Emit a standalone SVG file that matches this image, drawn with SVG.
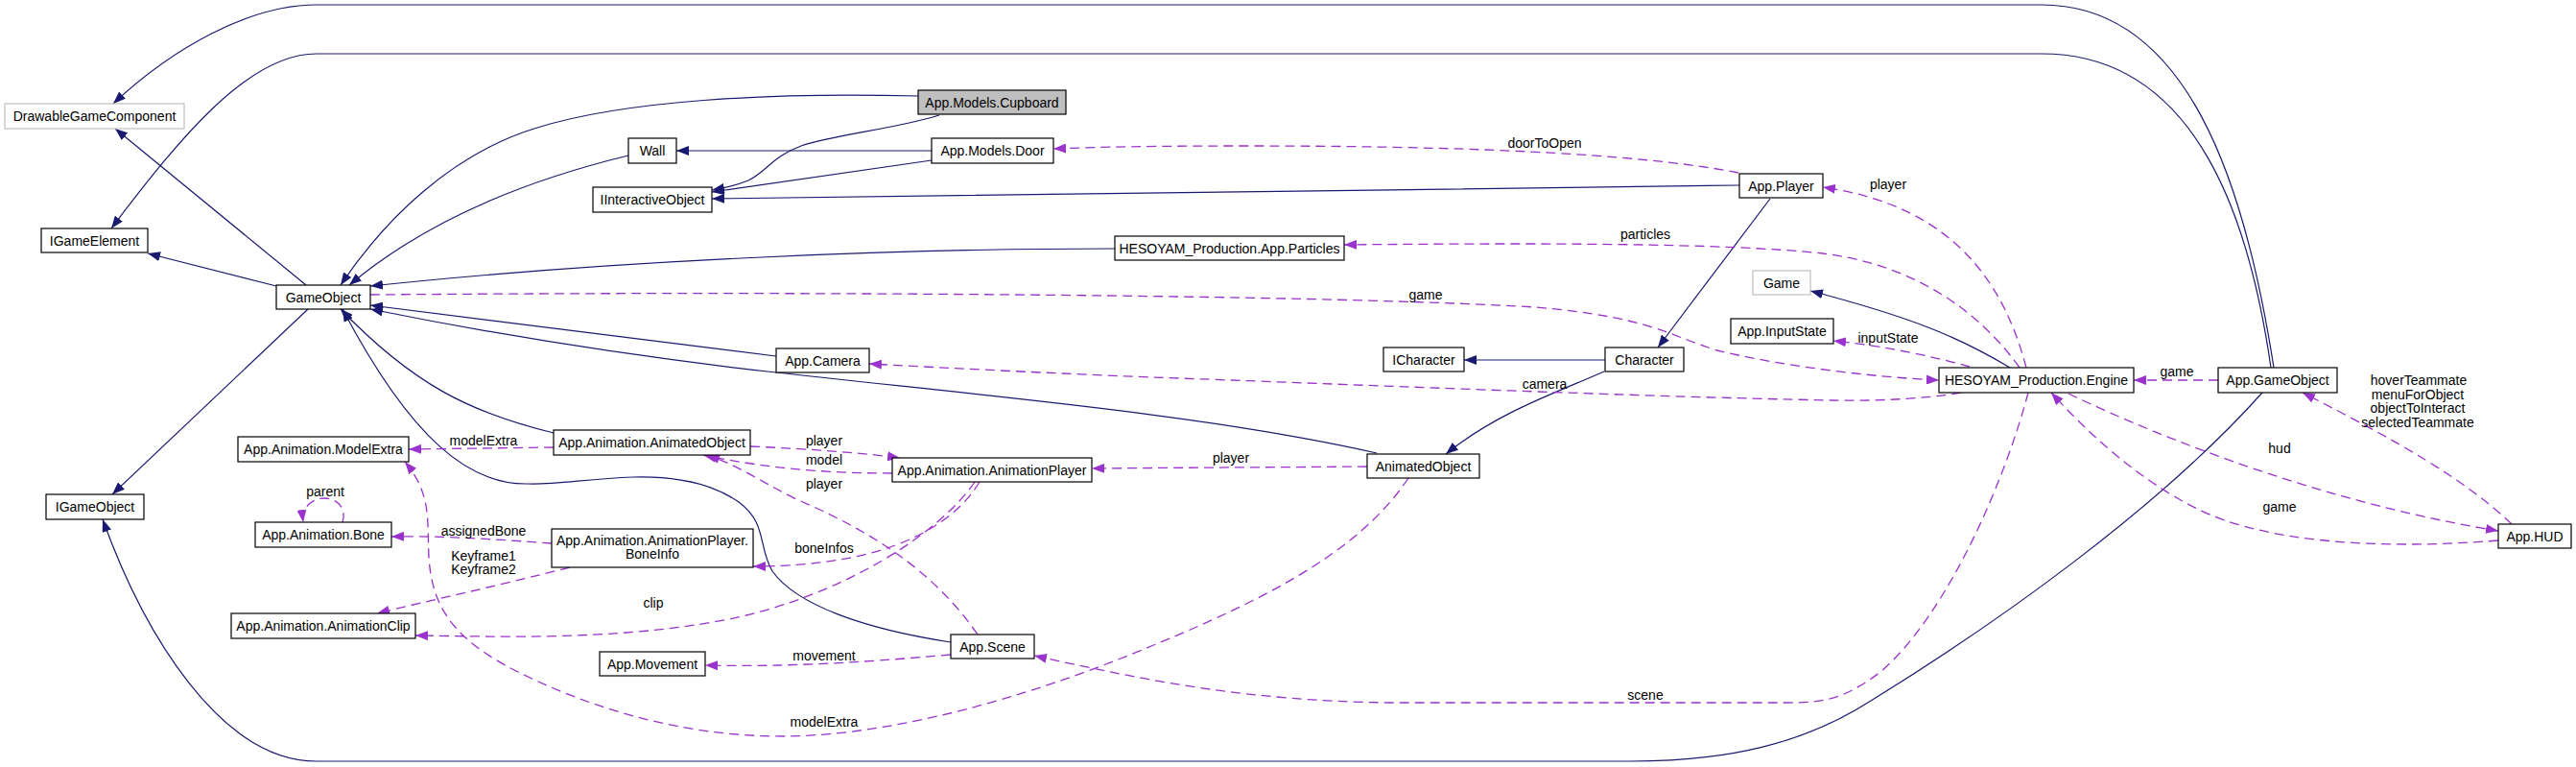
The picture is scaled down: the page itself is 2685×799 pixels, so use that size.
<svg xmlns="http://www.w3.org/2000/svg" width="2685" height="799" viewBox="0 0 2685 799">
<style>
.n rect{fill:#fff;stroke:#000;stroke-width:1.2}
.n.gr rect{stroke:#bfbfbf}
.n.hl rect{fill:#bfbfbf}
text{font-family:"Liberation Sans",Arial,Helvetica,sans-serif;font-size:14px;text-anchor:middle;fill:#000}
.inh{fill:none;stroke:#191970;stroke-width:1.2;marker-end:url(#an)}
.use{fill:none;stroke:#9a32cd;stroke-width:1.3;stroke-dasharray:10,6;marker-end:url(#ap)}
</style>
<defs>
<marker id="an" viewBox="0 0 13 10" refX="13" refY="5" markerWidth="13" markerHeight="10" markerUnits="userSpaceOnUse" orient="auto"><path d="M0,0 L13,5 L0,10 z" fill="#191970"/></marker>
<marker id="ap" viewBox="0 0 13 10" refX="13" refY="5" markerWidth="13" markerHeight="10" markerUnits="userSpaceOnUse" orient="auto"><path d="M0,0 L13,5 L0,10 z" fill="#9a32cd"/></marker>
</defs>
<rect width="2685" height="799" fill="#fff"/>
<g id="connectors">
<!-- inheritance -->
<path class="inh" d="M2370,383 C2340,190 2280,5 2128,5 L330,5 C260,5 180,50 118,108"/>
<path class="inh" d="M2367,383 C2345,230 2290,56 2128,56 L330,56 C260,56 190,140 116,238"/>
<path class="inh" d="M2358,409 C2250,530 2080,650 1950,730 C1880,775 1800,793 1700,793 L330,793 C230,793 150,660 107,541"/>
<path class="inh" d="M319,297 L120,134"/>
<path class="inh" d="M288,298 L154,264"/>
<path class="inh" d="M321,322 L117,515"/>
<path class="inh" d="M957,100 C800,96 650,105 560,133 C470,160 400,230 355,297"/>
<path class="inh" d="M655,162 C560,185 450,225 364,297"/>
<path class="inh" d="M979,120 C930,135 870,140 835,152 C805,163 800,178 780,188 C770,192 760,195 742,198"/>
<path class="inh" d="M971,157 L705,157"/>
<path class="inh" d="M971,167 L742,200"/>
<path class="inh" d="M1813,193 C1500,197 1000,204 742,207"/>
<path class="inh" d="M1845,207 L1728,362"/>
<path class="inh" d="M1673,375 L1526,375"/>
<path class="inh" d="M1162,259 C950,259 650,270 386,298"/>
<path class="inh" d="M809,371 L386,318"/>
<path class="inh" d="M1435,472 C1250,430 1000,410 800,387 C650,370 500,345 386,322"/>
<path class="inh" d="M577,451 C490,430 430,400 355,322"/>
<path class="inh" d="M991,669 C900,655 830,630 805,595 C790,570 800,545 770,523 C740,502 700,496 660,497 C610,499 580,505 550,504 C490,505 430,460 357,322"/>
<path class="inh" d="M1672,387 C1620,410 1560,430 1507,473"/>
<path class="inh" d="M2095,383 C2040,350 1990,330 1887,303"/>
<!-- usage -->
<path class="use" d="M1812,180 C1700,158 1500,152 1300,152 C1200,152 1150,153 1098,155"/>
<path class="use" d="M2112,383 C2090,300 2040,215 1900,195"/>
<path class="use" d="M2105,383 C2060,320 1990,275 1900,264 C1800,253 1600,253 1401,255"/>
<path class="use" d="M386,307 C900,303 1400,308 1600,320 C1720,330 1740,350 1790,365 C1850,380 1950,393 2021,396"/>
<path class="use" d="M2044,409 C2010,415 1960,418 1910,417 C1700,413 1400,400 1200,393 C1100,389 1000,384 906,379"/>
<path class="use" d="M2053,382 C2010,370 1960,360 1911,355"/>
<path class="use" d="M2312,396 L2224,396"/>
<path class="use" d="M2156,410 C2260,460 2430,525 2604,553"/>
<path class="use" d="M2604,563 C2480,573 2360,565 2290,530 C2230,500 2180,455 2138,409"/>
<path class="use" d="M2618,546 C2570,500 2500,460 2400,409"/>
<path class="use" d="M2114,409 C2090,500 2030,640 1960,700 C1920,730 1900,732 1860,732 L1450,732 C1300,730 1200,710 1078,683"/>
<path class="use" d="M1425,486 C1300,487 1250,487 1138,488"/>
<path class="use" d="M1468,498 C1420,570 1330,620 1200,673 C1100,715 950,765 820,767 C700,768 600,730 540,700 C470,665 450,630 447,580 C445,540 450,515 422,481"/>
<path class="use" d="M577,466 L426,468"/>
<path class="use" d="M782,465 C850,468 900,472 938,477"/>
<path class="use" d="M930,493 C860,493 800,488 733,474"/>
<path class="use" d="M1019,661 C970,590 900,550 830,520 C790,500 770,485 737,474"/>
<path class="use" d="M1021,502 C995,545 930,590 785,590"/>
<path class="use" d="M1016,502 C980,555 880,620 760,645 C640,668 520,663 433,662"/>
<path class="use" d="M575,566 C520,562 460,558 408,559"/>
<path class="use" d="M594,591 C520,610 450,625 393,639"/>
<path class="use" d="M357,544 C362,528 350,519 338,519 C326,519 314,528 316,544"/>
<path class="use" d="M991,682 C900,690 820,695 735,693"/>
<!-- labels -->
<text x="1610" y="154">doorToOpen</text>
<text x="1968" y="197">player</text>
<text x="1715" y="249">particles</text>
<text x="1486" y="312">game</text>
<text x="1610" y="405">camera</text>
<text x="1968" y="357">inputState</text>
<text x="2269" y="392">game</text>
<text x="2521" y="401">hoverTeammate</text>
<text x="2520" y="416">menuForObject</text>
<text x="2520" y="430">objectToInteract</text>
<text x="2520" y="445">selectedTeammate</text>
<text x="2376" y="472">hud</text>
<text x="2376" y="533">game</text>
<text x="1715" y="729">scene</text>
<text x="1283" y="482">player</text>
<text x="859" y="757">modelExtra</text>
<text x="504" y="464">modelExtra</text>
<text x="859" y="464">player</text>
<text x="859" y="484">model</text>
<text x="859" y="509">player</text>
<text x="859" y="576">boneInfos</text>
<text x="681" y="633">clip</text>
<text x="504" y="558">assignedBone</text>
<text x="504" y="584">Keyframe1</text>
<text x="504" y="598">Keyframe2</text>
<text x="339" y="517">parent</text>
<text x="859" y="688">movement</text>
</g>
<g id="DrawableGameComponent" class="n gr"><rect x="5" y="108" width="187" height="26"/><text x="98.5" y="126">DrawableGameComponent</text></g>
<g id="IGameElement" class="n"><rect x="43" y="238" width="111" height="25"/><text x="98.5" y="255.5">IGameElement</text></g>
<g id="GameObject" class="n"><rect x="288" y="297" width="98" height="25"/><text x="337" y="314.5">GameObject</text></g>
<g id="IGameObject" class="n"><rect x="48" y="515" width="102" height="26"/><text x="99" y="533">IGameObject</text></g>
<g id="Wall" class="n"><rect x="655" y="144" width="50" height="26"/><text x="680" y="162">Wall</text></g>
<g id="IInteractiveObject" class="n"><rect x="618" y="195" width="124" height="26"/><text x="680" y="213">IInteractiveObject</text></g>
<g id="Cupboard" class="n hl"><rect x="957" y="94" width="154" height="25"/><text x="1034" y="111.5">App.Models.Cupboard</text></g>
<g id="Door" class="n"><rect x="971" y="144" width="127" height="26"/><text x="1034.5" y="162">App.Models.Door</text></g>
<g id="Player" class="n"><rect x="1813" y="181" width="87" height="25"/><text x="1856.5" y="198.5">App.Player</text></g>
<g id="Particles" class="n"><rect x="1162" y="246" width="239" height="25"/><text x="1281.5" y="263.5">HESOYAM_Production.App.Particles</text></g>
<g id="Game" class="n gr"><rect x="1827" y="282" width="60" height="25"/><text x="1857" y="299.5">Game</text></g>
<g id="InputState" class="n"><rect x="1804" y="332" width="107" height="26"/><text x="1857.5" y="350">App.InputState</text></g>
<g id="ICharacter" class="n"><rect x="1442" y="362" width="84" height="25"/><text x="1484" y="379.5">ICharacter</text></g>
<g id="Character" class="n"><rect x="1673" y="362" width="82" height="25"/><text x="1714" y="379.5">Character</text></g>
<g id="Camera" class="n"><rect x="809" y="363" width="97" height="25"/><text x="857.5" y="380.5">App.Camera</text></g>
<g id="Engine" class="n"><rect x="2021" y="383" width="203" height="26"/><text x="2122.5" y="401">HESOYAM_Production.Engine</text></g>
<g id="AppGameObject" class="n"><rect x="2312" y="383" width="124" height="26"/><text x="2374" y="401">App.GameObject</text></g>
<g id="HUD" class="n"><rect x="2604" y="546" width="76" height="25"/><text x="2642" y="563.5">App.HUD</text></g>
<g id="AnimatedObject" class="n"><rect x="1425" y="473" width="117" height="25"/><text x="1483.5" y="490.5">AnimatedObject</text></g>
<g id="AnimAnimatedObject" class="n"><rect x="577" y="448" width="205" height="26"/><text x="679.5" y="466">App.Animation.AnimatedObject</text></g>
<g id="AnimationPlayer" class="n"><rect x="930" y="477" width="208" height="25"/><text x="1034" y="494.5">App.Animation.AnimationPlayer</text></g>
<g id="ModelExtra" class="n"><rect x="248" y="455" width="178" height="26"/><text x="337" y="473">App.Animation.ModelExtra</text></g>
<g id="Bone" class="n"><rect x="266" y="544" width="142" height="26"/><text x="337" y="562">App.Animation.Bone</text></g>
<g id="BoneInfo" class="n"><rect x="575" y="551" width="210" height="40"/><text x="680" y="567.5">App.Animation.AnimationPlayer.</text><text x="680" y="581.5">BoneInfo</text></g>
<g id="AnimationClip" class="n"><rect x="241" y="639" width="192" height="26"/><text x="337" y="657">App.Animation.AnimationClip</text></g>
<g id="Movement" class="n"><rect x="625" y="679" width="110" height="25"/><text x="680" y="696.5">App.Movement</text></g>
<g id="Scene" class="n"><rect x="991" y="661" width="87" height="25"/><text x="1034.5" y="678.5">App.Scene</text></g>
</svg>
